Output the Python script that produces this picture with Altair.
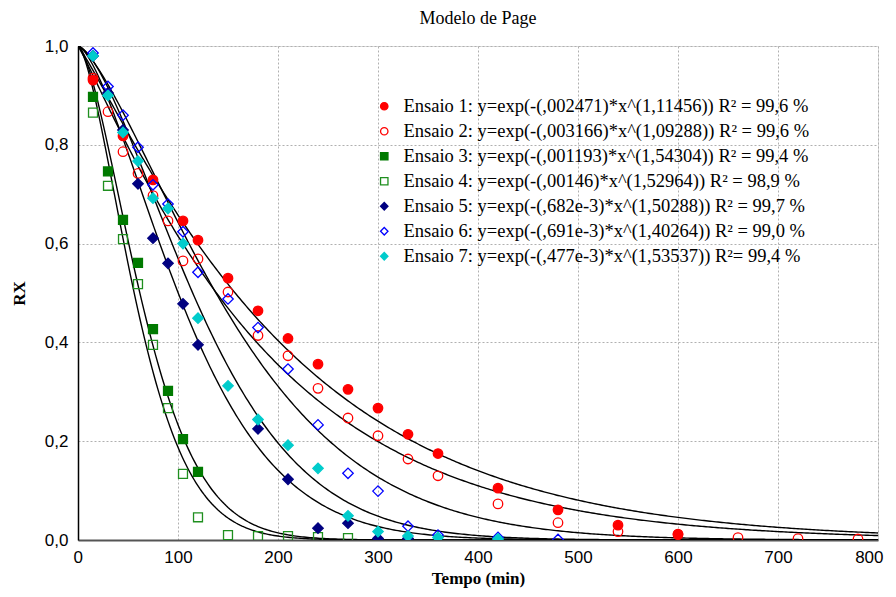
import altair as alt
import pandas as pd
import numpy as np

# ---- data ----
labels = [
    "Ensaio 1: y=exp(-(,002471)*x^(1,11456)) R² = 99,6 %",
    "Ensaio 2: y=exp(-(,003166)*x^(1,09288)) R² = 99,6 %",
    "Ensaio 3: y=exp(-(,001193)*x^(1,54304)) R² = 99,4 %",
    "Ensaio 4: y=exp(-(,00146)*x^(1,52964)) R² = 98,9 %",
    "Ensaio 5: y=exp(-(,682e-3)*x^(1,50288)) R² = 99,7 %",
    "Ensaio 6: y=exp(-(,691e-3)*x^(1,40264)) R² = 99,0 %",
    "Ensaio 7: y=exp(-(,477e-3)*x^(1,53537)) R²= 99,4 %",
]
k_vals = [0.002471, 0.003166, 0.001193, 0.00146, 0.000682, 0.000691, 0.000477]
n_vals = [1.11456, 1.09288, 1.54304, 1.52964, 1.50288, 1.40264, 1.53537]

t1 = [15, 45, 75, 105, 120, 150, 180, 210, 240, 270, 300, 330, 360, 420, 480, 540, 600]
rx1 = [0.931, 0.818, 0.729, 0.646, 0.607, 0.53, 0.464, 0.408, 0.356, 0.305, 0.267, 0.214, 0.175, 0.105, 0.061, 0.03, 0.012]

t2 = [15, 30, 45, 60, 75, 90, 105, 120, 150, 180, 210, 240, 270, 300, 330, 360, 420, 480, 540, 600, 660, 720, 780]
rx2 = [0.935, 0.867, 0.786, 0.742, 0.697, 0.646, 0.565, 0.569, 0.502, 0.414, 0.373, 0.307, 0.247, 0.211, 0.164, 0.13, 0.073, 0.035, 0.017, 0.011, 0.005, 0.003, 0.002]

t3 = [15, 30, 45, 60, 75, 90, 105, 120]
rx3 = [0.897, 0.746, 0.648, 0.561, 0.427, 0.302, 0.204, 0.138]

t4 = [15, 30, 45, 60, 75, 90, 105, 120, 150, 180, 210, 240, 270]
rx4 = [0.865, 0.717, 0.609, 0.518, 0.395, 0.267, 0.134, 0.046, 0.01, 0.008, 0.008, 0.006, 0.004]

t5 = [15, 30, 45, 60, 75, 90, 105, 120, 180, 210, 240, 270, 300, 330]
rx5 = [0.98, 0.905, 0.83, 0.721, 0.611, 0.56, 0.478, 0.395, 0.225, 0.123, 0.024, 0.034, 0.003, 0.003]

t6 = [15, 30, 45, 60, 75, 90, 105, 120, 150, 180, 210, 240, 270, 300, 330, 360, 420, 480]
rx6 = [0.986, 0.918, 0.86, 0.795, 0.719, 0.68, 0.624, 0.542, 0.488, 0.43, 0.346, 0.233, 0.135, 0.099, 0.028, 0.01, 0.005, 0.001]

t7 = [15, 30, 45, 60, 75, 90, 105, 120, 150, 180, 210, 240, 270, 300, 330, 360, 420]
rx7 = [0.98, 0.90, 0.825, 0.767, 0.692, 0.671, 0.60, 0.449, 0.312, 0.244, 0.192, 0.145, 0.049, 0.017, 0.008, 0.005, 0.002]

x_ticks = [0, 100, 200, 300, 400, 500, 600, 700, 800]
y_ticks = [0.0, 0.2, 0.4, 0.6, 0.8, 1.0]

stroke_colors = ["#ff0000", "#ff0000", "#007a00", "#1f8f1f", "#000080", "#0000ff", "#00cccc"]
fill_colors = ["#ff0000", "transparent", "#007a00", "transparent", "#000080", "transparent", "#00cccc"]
shapes = ["circle", "circle", "square", "square", "diamond", "diamond", "diamond"]
sizes = [90, 90, 80, 80, 110, 110, 110]

# ---- tables ----
times = [t1, t2, t3, t4, t5, t6, t7]
rxs = [rx1, rx2, rx3, rx4, rx5, rx6, rx7]
rows = []
for i, (tt, rr) in enumerate(zip(times, rxs)):
    for t, r in zip(tt, rr):
        rows.append({"serie": labels[i], "t": t, "rx": r, "sz": sizes[i]})
pts = pd.DataFrame(rows)

xs = np.arange(0, 801, 2)
crow = []
for i in range(7):
    for x in xs:
        crow.append({"serie": labels[i], "t": float(x), "rx": float(np.exp(-k_vals[i] * x ** n_vals[i]))})
curves = pd.DataFrame(crow)

xscale = alt.Scale(domain=[0, 800], nice=False, zero=False)
yscale = alt.Scale(domain=[0, 1], nice=False)

xaxis = alt.Axis(values=x_ticks, title="Tempo (min)", grid=True, ticks=False,
                 labelFlush=True, labelFlushOffset=5,
                 labelFont="Liberation Sans", labelFontSize=17, labelColor="black",
                 labelPadding=9, titleFont="Liberation Serif", titleFontSize=17,
                 titleFontWeight="bold", titleColor="black", titlePadding=5,
                 domainColor="#555555", domainWidth=2,
                 gridColor="#b0b0b0", gridDash=[2, 2], gridWidth=1)
yaxis = alt.Axis(values=y_ticks, title="RX", grid=True, ticks=False, labelFlush=False,
                 labelExpr="replace(format(datum.value, '.1f'), '.', ',')",
                 labelFont="Liberation Sans", labelFontSize=17, labelColor="black",
                 labelPadding=10, titleFont="Liberation Serif", titleFontSize=17,
                 titleFontWeight="bold", titleColor="black", titlePadding=16,
                 domainColor="black", domainWidth=1.5,
                 gridColor="#b0b0b0", gridDash=[2, 2], gridWidth=1)

lines = alt.Chart(curves).mark_line(color="black", strokeWidth=1.4, clip=True).encode(
    x=alt.X("t:Q", scale=xscale, axis=xaxis),
    y=alt.Y("rx:Q", scale=yscale, axis=yaxis),
    detail="serie:N",
)

legend = alt.Legend(title=None, orient="none", legendX=297, legendY=51,
                    labelFont="Liberation Serif", labelFontSize=18.5, labelColor="black",
                    labelLimit=700, rowPadding=6, symbolSize=55, symbolStrokeWidth=1.3,
                    padding=0, labelOffset=10)

points = alt.Chart(pts).mark_point(filled=False, strokeWidth=1.3, opacity=1, clip=True).encode(
    x=alt.X("t:Q", scale=xscale),
    y=alt.Y("rx:Q", scale=yscale),
    color=alt.Color("serie:N", scale=alt.Scale(domain=labels, range=stroke_colors), legend=legend),
    fill=alt.Fill("serie:N", scale=alt.Scale(domain=labels, range=fill_colors), legend=legend),
    shape=alt.Shape("serie:N", scale=alt.Scale(domain=labels, range=shapes), legend=legend),
    size=alt.Size("sz:Q", scale=None, legend=None),
)

chart = alt.layer(lines, points).properties(
    width=800, height=494,
    title=alt.TitleParams("Modelo de Page", font="Liberation Serif", fontSize=18,
                          fontWeight="normal", color="black", offset=9),
    padding={"left": 70, "top": 38, "right": 10, "bottom": 48},
    autosize=alt.AutoSizeParams(type="none"),
).configure_view(stroke="black", strokeWidth=1.2).configure(background="white")

chart.save("out.html", embed_options={"renderer": "svg", "actions": False})
